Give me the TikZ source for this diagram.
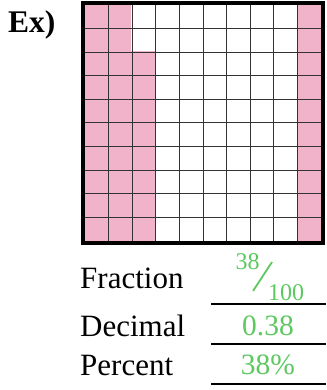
\documentclass[tikz,border=0pt]{standalone}
\usepackage{fontspec}
\setmainfont{Liberation Serif}
\definecolor{cellpink}{RGB}{241,179,201}
\definecolor{ansgreen}{RGB}{92,200,95}
\begin{document}
\begin{tikzpicture}[x=1pt,y=-1pt,
  label/.style={anchor=base west,inner sep=0pt,font=\fontsize{31}{31}\selectfont},
  answer/.style={anchor=base,inner sep=0pt,text=ansgreen,font=\fontsize{29.5}{29.5}\selectfont},
  small/.style={anchor=base,inner sep=0pt,text=ansgreen,font=\fontsize{24}{24}\selectfont},
  rule/.style={line width=1.6pt},
  gridline/.style={line width=1pt,draw=black!80}]
\useasboundingbox (0,0) rectangle (326,390);
% pink cells
\fill[cellpink] (85,5) rectangle (131.2,241);
\fill[cellpink] (131.2,51.4) rectangle (154.8,241);
\fill[cellpink] (297.4,5) rectangle (321,241);
% grid
\foreach \i in {1,...,9}{
  \draw[gridline] ({85+23.6*\i},5) -- ({85+23.6*\i},241);
  \draw[gridline] (85,{5+23.6*\i}) -- (321,{5+23.6*\i});
}
\draw[line width=4pt] (83,3) rectangle (323,243);
% Ex)
\node[anchor=base west,inner sep=0pt,font=\fontsize{31.5}{31.5}\selectfont\bfseries] (ex) at (8,32.5) {Ex)};
% labels
\node[label] (fr) at (80,288) {Fraction};
\node[label] (de) at (80,336) {Decimal};
\node[label] (pe) at (80,375) {Percent};
% rules
\coordinate (r1a) at (211,304); \coordinate (r1b) at (326,304);
\coordinate (r2a) at (211,344); \coordinate (r2b) at (326,344);
\coordinate (r3a) at (211,384); \coordinate (r3b) at (326,384);
\draw[rule] (r1a) -- (r1b);
\draw[rule] (r2a) -- (r2b);
\draw[rule] (r3a) -- (r3b);
% answers
\node[small] (num) at (247.5,269) {38};
\coordinate (s1) at (253,291); \coordinate (s2) at (272,262);
\draw[ansgreen,line width=1.8pt] (s1) -- (s2);
\node[small] (den) at (286,300) {100};
\node[answer] (dec) at (268,335.5) {0.38};
\node[answer] (pct) at (268,374) {38\%};
\end{tikzpicture}
\end{document}
